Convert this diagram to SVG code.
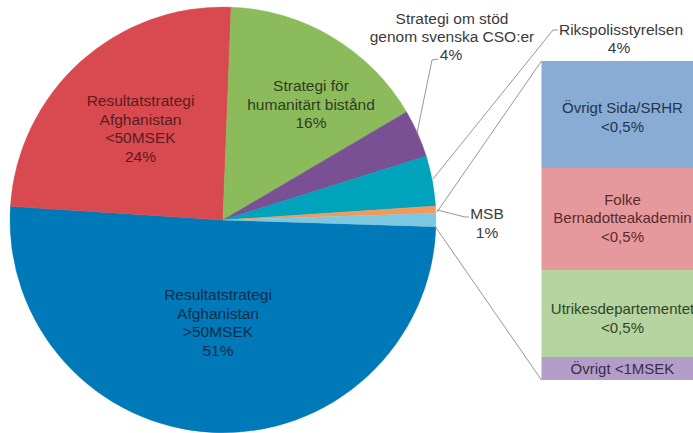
<svg xmlns="http://www.w3.org/2000/svg" width="693" height="433" viewBox="0 0 693 433">
<style>
text{font-family:"Liberation Sans",Arial,sans-serif;font-size:15.5px;text-anchor:middle}
.box text{font-size:15px}
.lead{fill:none;stroke:#8a8a8a;stroke-width:0.9}
.out{fill:#3a3a3a}
</style>
<rect width="693" height="433" fill="#ffffff"/>
<g id="slice-blue">
<path d="M223,220 L435.9,226.69 A213,213 0 1 1 10.44,206.26 Z" fill="#0079b8" stroke="#0079b8" stroke-width="0.5"/>
<text fill="#0e2c4c"><tspan x="218" y="300">Resultatstrategi</tspan><tspan x="218" y="318.5">Afghanistan</tspan><tspan x="218" y="337">&gt;50MSEK</tspan><tspan x="218" y="355.5">51%</tspan></text>
</g>
<g id="slice-red">
<path d="M223,220 L10.44,206.26 A213,213 0 0 1 231.18,7.16 Z" fill="#d94a50" stroke="#d94a50" stroke-width="0.5"/>
<text fill="#5a1c1f"><tspan x="140.5" y="106">Resultatstrategi</tspan><tspan x="140.5" y="124.5">Afghanistan</tspan><tspan x="140.5" y="143">&lt;50MSEK</tspan><tspan x="140.5" y="161.5">24%</tspan></text>
</g>
<g id="slice-green">
<path d="M223,220 L231.18,7.16 A213,213 0 0 1 406.53,111.89 Z" fill="#8cbb5c" stroke="#8cbb5c" stroke-width="0.5"/>
<text fill="#2f3c1e"><tspan x="311" y="91">Strategi för</tspan><tspan x="311" y="109.5">humanitärt bistånd</tspan><tspan x="311" y="128">16%</tspan></text>
</g>
<g id="slice-purple">
<path d="M223,220 L406.53,111.89 A213,213 0 0 1 426.25,156.3 Z" fill="#7a5095" stroke="#7a5095" stroke-width="0.5"/>
</g>
<g id="slice-teal">
<path d="M223,220 L426.25,156.3 A213,213 0 0 1 435.53,205.88 Z" fill="#00a3bc" stroke="#00a3bc" stroke-width="0.5"/>
</g>
<g id="slice-orange">
<path d="M223,220 L435.53,205.88 A213,213 0 0 1 435.9,213.31 Z" fill="#f29a5c" stroke="#f29a5c" stroke-width="0.3"/>
</g>
<g id="slice-lightblue">
<path d="M223,220 L435.9,213.31 A213,213 0 0 1 435.9,226.69 Z" fill="#7cc8e0" stroke="#7cc8e0" stroke-width="0.3"/>
</g>
<g id="label-cso">
<text class="out"><tspan x="452" y="23.5">Strategi om stöd</tspan><tspan x="452" y="42">genom svenska CSO:er</tspan><tspan x="451" y="60">4%</tspan></text>
</g>
<g id="label-rikspolis">
<text class="out"><tspan x="621" y="34.5">Rikspolisstyrelsen</tspan><tspan x="619" y="52.5">4%</tspan></text>
</g>
<g id="label-msb">
<text class="out"><tspan x="487" y="218.5">MSB</tspan><tspan x="487" y="237.5">1%</tspan></text>
</g>
<g id="bar" class="box">
<g id="box-sida">
<rect x="541.5" y="61" width="152" height="107" fill="#88acd4"/>
<text fill="#1f3550"><tspan x="622.5" y="113">Övrigt Sida/SRHR</tspan><tspan x="622.5" y="132">&lt;0,5%</tspan></text>
</g>
<g id="box-folke">
<rect x="541.5" y="168" width="152" height="102" fill="#e6999c"/>
<text fill="#5a2a2e"><tspan x="622.5" y="204.5">Folke</tspan><tspan x="622.5" y="223">Bernadotteakademin</tspan><tspan x="622.5" y="241.5">&lt;0,5%</tspan></text>
</g>
<g id="box-ud">
<rect x="541.5" y="270" width="152" height="87" fill="#b5d4a0"/>
<text fill="#2e4628"><tspan x="622.5" y="314">Utrikesdepartementet</tspan><tspan x="622.5" y="332.5">&lt;0,5%</tspan></text>
</g>
<g id="box-ovrigt">
<rect x="541.5" y="357" width="152" height="23" fill="#b39dc9"/>
<text fill="#3a2d4a"><tspan x="622.5" y="374">Övrigt &lt;1MSEK</tspan></text>
</g>
</g>
<g id="connectors">
<polyline class="lead" points="417,133 432,60 438,59"/>
<polyline class="lead" points="433,179 553,30 558,30"/>
<polyline class="lead" points="437,210 465,217 469,217"/>
<line class="lead" x1="437" y1="212" x2="541.5" y2="61"/>
<line class="lead" x1="435.5" y1="227" x2="541.5" y2="380"/>
</g>
</svg>
